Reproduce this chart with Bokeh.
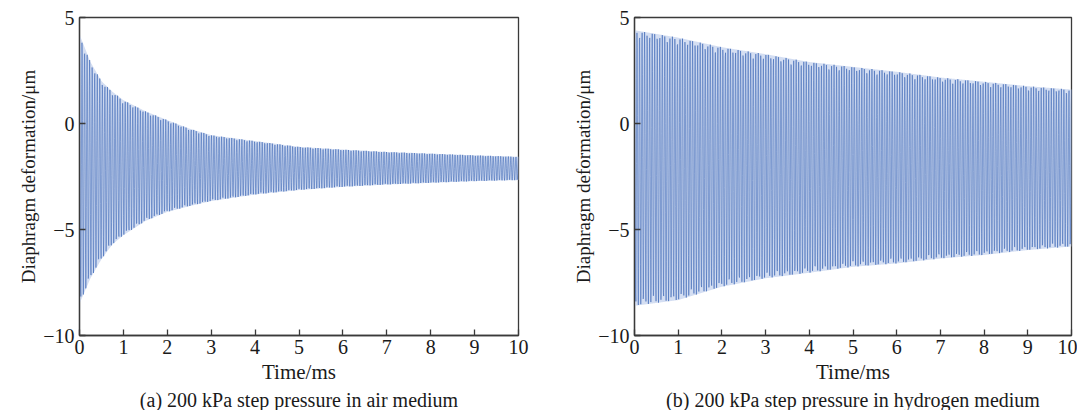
import numpy as np
from bokeh.plotting import figure
from bokeh.layouts import row
from bokeh.models import Title, FixedTicker, CustomJSTickFormatter, Range1d
from bokeh.embed import file_html
from bokeh.resources import INLINE

# Envelope readings (ms, um)
air_t = [0, 0.25, 0.5, 0.75, 1, 1.5, 2, 2.5, 3, 4, 5, 6, 7, 8, 9, 10]
air_upper = [4.2, 2.9, 2.0, 1.5, 1.1, 0.58, 0.16, -0.24, -0.55, -0.83, -1.1, -1.23, -1.34, -1.42, -1.5, -1.57]
air_lower = [-8.5, -7.3, -6.4, -5.7, -5.27, -4.6, -4.17, -3.9, -3.66, -3.35, -3.14, -2.99, -2.88, -2.8, -2.72, -2.67]

h2_t = [0, 1, 2, 3, 4, 5, 6, 7, 8, 9, 10]
h2_upper = [4.4, 4.05, 3.6, 3.27, 2.9, 2.67, 2.44, 2.17, 1.97, 1.76, 1.6]
h2_lower = [-8.6, -8.33, -7.7, -7.3, -7.04, -6.76, -6.6, -6.37, -6.2, -5.97, -5.8]

osc_freq_per_ms = 17.3   # apparent oscillation count per ms
n_samples = 1604

x_ticks = [0, 1, 2, 3, 4, 5, 6, 7, 8, 9, 10]
y_ticks = [-10, -5, 0, 5]
captions = ["(a) 200 kPa step pressure in air medium",
            "(b) 200 kPa step pressure in hydrogen medium"]
y_label = "Diaphragm deformation/\u03bcm"

FONT = "Liberation Serif"
LINE = "#3460b2"
FILL = "#d4def2"

def wave(tr, up, lo):
    t = np.linspace(0, 10, n_samples)
    u = np.interp(t, tr, up)
    l = np.interp(t, tr, lo)
    mid = (u + l) / 2
    half = (u - l) / 2
    return t, u, l, mid + half * np.cos(2 * np.pi * osc_freq_per_ms * t)

def make(tr, up, lo, caption, width, height, bl, br, bt):
    p = figure(width=width, height=height, output_backend="svg", toolbar_location=None,
               x_range=Range1d(0, 10), y_range=Range1d(-10, 5),
               min_border_left=bl, min_border_right=br, min_border_top=bt,
               min_border_bottom=0)
    t, u, l, y = wave(tr, up, lo)
    p.varea(x=t, y1=l, y2=u, fill_color=FILL, fill_alpha=1.0)
    p.line(t, y, line_color=LINE, line_width=0.9, line_alpha=0.6)
    p.grid.visible = False
    p.outline_line_color = "#3a3a3a"
    p.outline_line_width = 1.3
    fmt = CustomJSTickFormatter(code="return tick < 0 ? '\u2212' + Math.abs(tick) : '' + tick;")
    for ax in (p.xaxis[0], p.yaxis[0]):
        ax.major_tick_in = 6
        ax.major_tick_out = 0
        ax.minor_tick_line_color = None
        ax.axis_line_color = "#3a3a3a"
        ax.axis_line_width = 1.3
        ax.major_tick_line_color = "#3a3a3a"
        ax.major_tick_line_width = 1.3
        ax.major_label_text_font = FONT
        ax.major_label_text_font_size = "20px"
        ax.major_label_text_color = "#1a1a1a"
        ax.axis_label_text_font = FONT
        ax.axis_label_text_font_size = "21px"
        ax.axis_label_text_font_style = "normal"
        ax.axis_label_text_color = "#1a1a1a"
        ax.formatter = fmt
    p.xaxis[0].ticker = FixedTicker(ticks=x_ticks)
    p.yaxis[0].ticker = FixedTicker(ticks=y_ticks)
    p.xaxis[0].axis_label = "Time/ms"
    p.xaxis[0].major_label_standoff = 4
    p.xaxis[0].axis_label_standoff = 3
    p.yaxis[0].major_label_standoff = 5
    p.add_layout(Title(text=y_label, align="center", text_font=FONT,
                       text_font_size="19px", text_font_style="normal",
                       text_color="#1a1a1a", standoff=4), "left")
    p.add_layout(Title(text=caption, align="center", text_font=FONT,
                       text_font_size="20px", text_font_style="normal",
                       text_color="#1a1a1a", standoff=0), "below")
    return p

p1 = make(air_t, air_upper, air_lower, captions[0], 545, 410, 79, 27, 16)
p2 = make(h2_t, h2_upper, h2_lower, captions[1], 532, 410, 89, 6, 17)
layout = row(p1, p2)
open("out.html", "w").write(file_html(layout, INLINE))
